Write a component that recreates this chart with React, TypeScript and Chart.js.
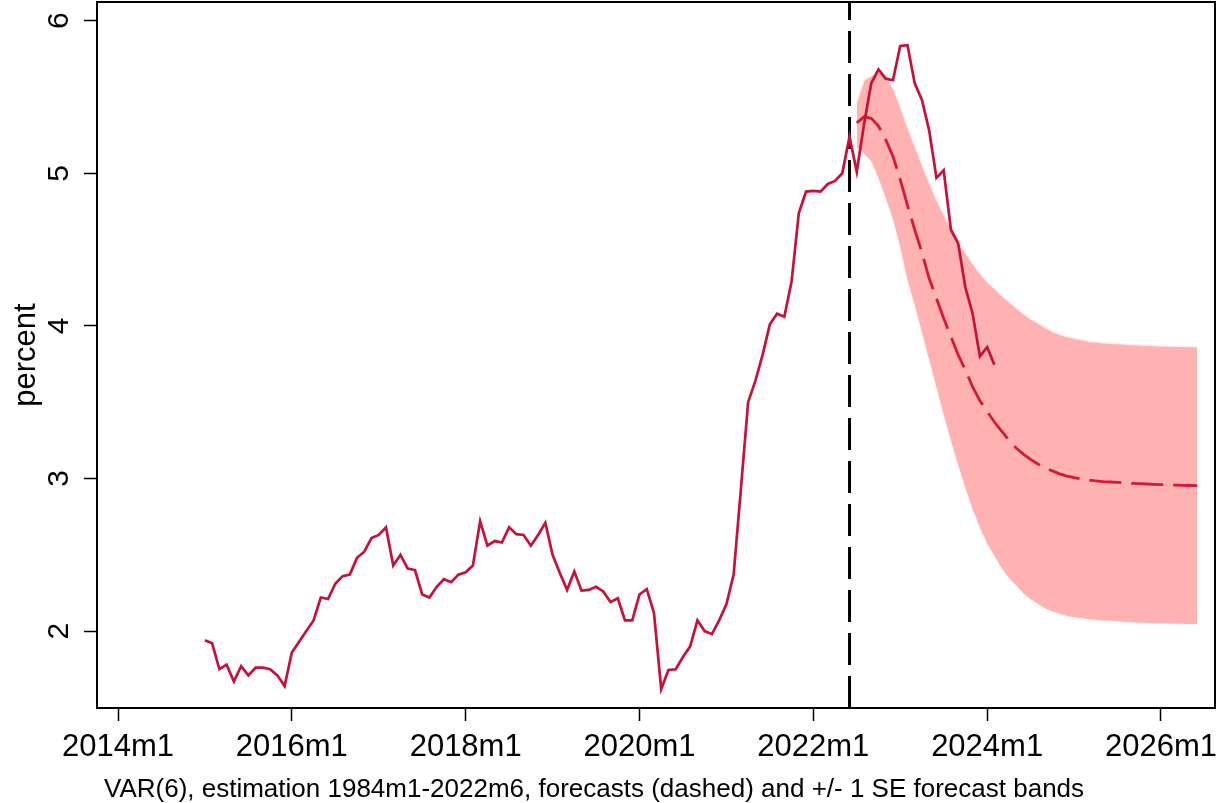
import React, { useEffect, useRef } from "react";
import { Chart, registerables } from "chart.js";

Chart.register(...registerables);

// x values are month indices counted from 2014m1 (= 0)
const X_TICK_MONTHS = [0, 24, 48, 72, 96, 120, 144];
const X_TICK_LABELS = ["2014m1", "2016m1", "2018m1", "2020m1", "2022m1", "2024m1", "2026m1"];
const Y_TICKS = [2, 3, 4, 5, 6];
const X_MIN = -2.9;
const X_MAX = 151.46;
const Y_MIN = 1.496;
const Y_MAX = 6.1225;

const Y_LABEL = "percent";
const NOTE = "VAR(6), estimation 1984m1-2022m6, forecasts (dashed) and +/- 1 SE forecast bands";

const ESTIMATION_END = 101; // 2022m6

// actual series, 2015m1 .. 2024m2
const ACTUAL_START = 12;
const ACTUAL = [
  1.94, 1.92, 1.75, 1.78, 1.67, 1.77, 1.71, 1.76, 1.76, 1.75, 1.71, 1.64,
  1.86, 1.93, 2.0, 2.07, 2.22, 2.21, 2.31, 2.36, 2.37, 2.48, 2.52, 2.61,
  2.63, 2.68, 2.43, 2.5, 2.41, 2.4, 2.24, 2.22, 2.29, 2.34, 2.32, 2.37,
  2.385, 2.43, 2.72, 2.56, 2.59, 2.58, 2.68, 2.635, 2.63, 2.56, 2.63, 2.71,
  2.5, 2.38, 2.27, 2.39, 2.265, 2.27, 2.29, 2.26, 2.19, 2.215, 2.07, 2.07,
  2.24, 2.275, 2.12, 1.62, 1.745, 1.75, 1.83, 1.9, 2.07, 2.0, 1.98, 2.07,
  2.175, 2.37, 2.93, 3.5, 3.64, 3.81, 4.01, 4.08, 4.06, 4.29, 4.74, 4.88,
  4.885, 4.88, 4.93, 4.95, 5.0, 5.24, 5.01, 5.32, 5.59, 5.68, 5.62, 5.61,
  5.835, 5.84, 5.59, 5.48, 5.28, 4.97, 5.02, 4.63, 4.54, 4.25, 4.08, 3.8,
  3.86, 3.745,
];

// forecasts, 2022m7 .. 2026m6
const FORECAST_START = 102;
const FORECAST = [
  5.33, 5.37, 5.36, 5.31, 5.22, 5.11, 4.96, 4.79, 4.63, 4.48, 4.31, 4.18,
  4.05, 3.93, 3.81, 3.71, 3.6, 3.51, 3.44, 3.37, 3.31, 3.25, 3.2, 3.16,
  3.125, 3.095, 3.07, 3.05, 3.03, 3.015, 3.005, 2.998, 2.99, 2.985, 2.98, 2.977,
  2.974, 2.971, 2.968, 2.966, 2.964, 2.962, 2.96, 2.958, 2.956, 2.955, 2.954, 2.953,
];
const UPPER = [
  5.47, 5.61, 5.64, 5.665, 5.63, 5.56, 5.44, 5.305, 5.18, 5.06, 4.94, 4.83,
  4.73, 4.64, 4.555, 4.48, 4.41, 4.345, 4.29, 4.245, 4.2, 4.16, 4.12, 4.08,
  4.045, 4.02, 3.99, 3.965, 3.945, 3.93, 3.92, 3.91, 3.9, 3.895, 3.89, 3.887,
  3.884, 3.881, 3.878, 3.875, 3.873, 3.871, 3.869, 3.868, 3.867, 3.866, 3.865, 3.864,
];
const LOWER = [
  5.17, 5.13, 5.08, 4.97, 4.84, 4.7, 4.52, 4.3, 4.14, 3.96, 3.78, 3.6,
  3.42, 3.25, 3.09, 2.94, 2.8, 2.68, 2.575, 2.495, 2.415, 2.35, 2.3, 2.25,
  2.21, 2.18, 2.15, 2.13, 2.115, 2.1, 2.09, 2.085, 2.08, 2.075, 2.07, 2.067,
  2.064, 2.061, 2.058, 2.056, 2.054, 2.052, 2.051, 2.05, 2.049, 2.048, 2.047, 2.046,
];

const FONT = '"Liberation Sans", Arial, sans-serif';
const ACTUAL_COLOR = "rgb(200,16,56)";
const FORECAST_COLOR = "rgb(215,25,55)";
const BAND_COLOR = "rgb(255,178,178)";

const toPoints = (start: number, arr: number[]) => arr.map((y, i) => ({ x: start + i, y }));

const framePlugin = {
  id: "frameAndNote",
  afterDraw(chart: any) {
    const { ctx, chartArea } = chart;
    ctx.save();
    ctx.strokeStyle = "#000";
    ctx.lineWidth = 2;
    ctx.strokeRect(chartArea.left, chartArea.top, chartArea.right - chartArea.left, chartArea.bottom - chartArea.top);
    ctx.fillStyle = "#000";
    ctx.font = `26px ${FONT}`;
    ctx.textBaseline = "alphabetic";
    ctx.textAlign = "left";
    ctx.fillText(NOTE, 104, 797);
    ctx.restore();
  },
};

export default function App() {
  const ref = useRef<HTMLCanvasElement | null>(null);

  useEffect(() => {
    document.body.style.margin = "0";
    const canvas = ref.current;
    if (!canvas) return;
    const chart = new Chart(canvas, {
      type: "line",
      data: {
        datasets: [
          {
            label: "actual",
            data: toPoints(ACTUAL_START, ACTUAL),
            borderColor: ACTUAL_COLOR,
            borderWidth: 2.7,
            pointRadius: 0,
            tension: 0,
            fill: false,
          },
          {
            label: "forecast",
            data: toPoints(FORECAST_START, FORECAST),
            borderColor: FORECAST_COLOR,
            borderWidth: 2.8,
            borderDash: [32, 10],
            pointRadius: 0,
            tension: 0,
            fill: false,
          },
          {
            label: "estimation end",
            data: [
              { x: ESTIMATION_END, y: Y_MIN },
              { x: ESTIMATION_END, y: Y_MAX },
            ],
            borderColor: "#000",
            borderWidth: 3,
            borderDash: [32, 11],
            pointRadius: 0,
            fill: false,
          },
          {
            label: "upper",
            data: toPoints(FORECAST_START, UPPER),
            borderColor: "rgba(255,238,238,1)",
            borderWidth: 1.5,
            backgroundColor: BAND_COLOR,
            pointRadius: 0,
            tension: 0,
            fill: "+1",
          },
          {
            label: "lower",
            data: toPoints(FORECAST_START, LOWER),
            borderColor: "rgba(255,238,238,1)",
            borderWidth: 1.5,
            pointRadius: 0,
            tension: 0,
            fill: false,
          },
        ],
      },
      options: {
        responsive: false,
        maintainAspectRatio: false,
        animation: false,
        events: [],
        layout: { padding: { top: 2, right: 6, left: 0, bottom: 0 } },
        plugins: {
          legend: { display: false },
          tooltip: { enabled: false },
          title: { display: false },
        },
        scales: {
          x: {
            type: "linear",
            min: X_MIN,
            max: X_MAX,
            afterBuildTicks: (s: any) => {
              s.ticks = X_TICK_MONTHS.map((v) => ({ value: v }));
            },
            afterFit: (s: any) => {
              s.height = 95;
              s.paddingLeft = 0;
              s.paddingRight = 0;
            },
            ticks: {
              autoSkip: false,
              maxRotation: 0,
              minRotation: 0,
              padding: 8,
              color: "#000",
              font: { family: FONT, size: 31, lineHeight: 1.2 },
              callback: (v: any) => {
                const i = X_TICK_MONTHS.indexOf(Number(v));
                return i >= 0 ? X_TICK_LABELS[i] : "";
              },
            },
            grid: {
              display: true,
              drawOnChartArea: false,
              drawTicks: true,
              tickLength: 13,
              tickColor: "#000",
              tickWidth: 1.5,
            },
            border: { display: false },
          },
          y: {
            type: "linear",
            min: Y_MIN,
            max: Y_MAX,
            afterBuildTicks: (s: any) => {
              s.ticks = Y_TICKS.map((v) => ({ value: v }));
            },
            afterFit: (s: any) => {
              s.width = 97;
              s.paddingTop = 0;
              s.paddingBottom = 0;
            },
            ticks: {
              minRotation: 90,
              maxRotation: 90,
              crossAlign: "center",
              padding: 16,
              color: "#000",
              font: { family: FONT, size: 30, lineHeight: 1.2 },
              callback: (v: any) => String(v),
            },
            grid: {
              display: true,
              drawOnChartArea: false,
              drawTicks: true,
              tickLength: 13,
              tickColor: "#000",
              tickWidth: 1.5,
            },
            border: { display: false },
            title: {
              display: true,
              text: Y_LABEL,
              color: "#000",
              font: { family: FONT, size: 31, lineHeight: 1 },
              padding: { top: 10.5, bottom: 0 },
            },
          },
        },
      },
      plugins: [framePlugin],
    } as any);
    return () => chart.destroy();
  }, []);

  return (
    <div style={{ width: 1221, height: 803, background: "#fff" }}>
      <canvas ref={ref} width={1221} height={803} style={{ display: "block" }} />
    </div>
  );
}
